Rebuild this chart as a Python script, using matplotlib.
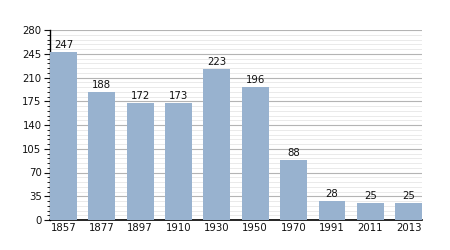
import matplotlib
matplotlib.use("Agg")
import matplotlib.pyplot as plt
from matplotlib.ticker import MultipleLocator

years = ["1857", "1877", "1897", "1910", "1930", "1950", "1970", "1991", "2011", "2013"]
values = [247, 188, 172, 173, 223, 196, 88, 28, 25, 25]
yticks = [0, 35, 70, 105, 140, 175, 210, 245, 280]

fig = plt.figure(figsize=(4.5, 2.5), dpi=100)
ax = fig.add_axes([0.111, 0.12, 0.827, 0.76])
x = list(range(len(years)))
bw = 0.7
bars = ax.bar(x, values, width=bw, color="#98b2cf", zorder=3)
for xi, v in zip(x, values):
    ax.text(xi, v + 3, str(v), ha="center", va="bottom", fontsize=7.3, color="#111111", zorder=4)

ax.set_xlim(-bw / 2, len(years) - 1 + bw / 2)
ax.set_ylim(0, 280)
ax.set_yticks(yticks)
ax.yaxis.set_minor_locator(MultipleLocator(7))
ax.set_xticks(x)
ax.set_xticklabels(years)
ax.tick_params(axis="both", labelsize=7.3, colors="#111111")
ax.tick_params(axis="x", length=0, pad=2)
ax.tick_params(axis="y", which="major", length=4, width=0.8, pad=2)
ax.tick_params(axis="y", which="minor", length=2, width=0.6)
ax.grid(axis="y", which="major", color="#b4b4b4", linewidth=0.8, zorder=0)
ax.grid(axis="y", which="minor", color="#e6e6e6", linewidth=0.6, zorder=0)
for s in ["top", "right"]:
    ax.spines[s].set_visible(False)
ax.spines["left"].set_linewidth(1.0)
ax.spines["bottom"].set_linewidth(1.2)
ax.set_axisbelow(True)

fig.savefig("out.png", dpi=100)
